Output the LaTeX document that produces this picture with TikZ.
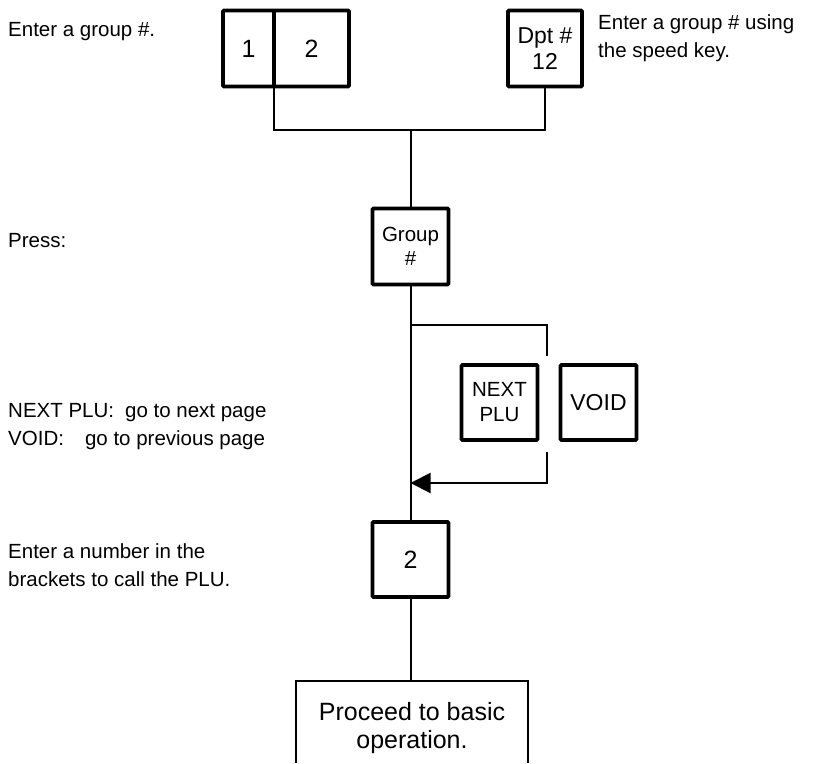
\documentclass[tikz,border=0pt]{standalone}
\usepackage{fontspec}
\setmainfont{Liberation Sans}
\usetikzlibrary{arrows.meta,positioning}

\begin{document}
\begin{tikzpicture}[
  x=1pt, y=-1pt,
  font=\fontsize{20.5}{28}\selectfont,
  key/.style={
    draw=black,
    line width=3.8pt,
    rounded corners=1pt,
    align=center,
    inner sep=0pt,
    outer sep=0pt,
    minimum width=76pt,
    minimum height=76pt
  },
  note/.style={anchor=west, align=left, inner sep=0pt},
  link/.style={line width=2pt, draw=black},
  back/.style={-{Triangle[length=20pt,width=20pt]}, line width=2pt, draw=black},
  frame/.style={line width=1.6pt, draw=black}
]
\useasboundingbox (0,0) rectangle (813,763);

% keys
\node[key, minimum width=51pt, font=\fontsize{25}{28}\selectfont] (one) at (248.5,48.5) {1};
\node[key, minimum width=75pt, font=\fontsize{25}{28}\selectfont] (two) at (311.5,48.5) {2};
\node[key, minimum width=74pt, font=\fontsize{23}{26}\selectfont] (dpt) at (545,48.5) {Dpt \#\\12};
\node[key, font=\fontsize{20.5}{24}\selectfont] (group) at (410.5,246.5) {Group\\\#};
\node[key, minimum height=75pt, font=\fontsize{20.5}{25}\selectfont] (next) at (499.5,402.5) {NEXT\\PLU};
\node[key, minimum height=75pt, font=\fontsize{23}{26}\selectfont] (void) at (598.5,402.5) {VOID};
\node[key, minimum height=75pt, font=\fontsize{25}{28}\selectfont] (plu) at (410.5,559.5) {2};
\node[font=\fontsize{25}{28}\selectfont, align=center, inner sep=0pt] (proceed) at (412,728) {Proceed to basic\\operation.};

% notes
\node[note] (entergroup) at (8,32) {Enter a group \#.};
\node[note] (speedkey) at (598,38) {Enter a group \# using\\the speed key.};
\node[note] (press) at (8,241) {Press:};
\node[note] (paging) at (8,427) {NEXT PLU:\hspace{11pt}go to next page\\VOID:\hspace{21pt}go to previous page};
\node[note] (enternum) at (8,565) {Enter a number in the\\brackets to call the PLU.};

% connectors
\coordinate (joint) at (410.5,130);
\coordinate (split) at (410.5,325);
\coordinate (rimtop) at (547,356);
\coordinate (rimlow) at (547,452);
\coordinate (merge) at (410.5,483);
\coordinate (boxbl) at (296,763);
\coordinate (boxtr) at (528,681);
\coordinate (boxbr) at (528,763);

\draw[link] (one.south east) |- (joint) -| (dpt.south);
\draw[link] (joint) -- (group.north);
\draw[link] (group.south) -- (plu.north);
\draw[link] (split) -| (rimtop);
\draw[back] (rimlow) |- (merge);
\draw[link] (plu.south) -- (plu.south |- boxtr);
\draw[frame] (boxbl) |- (boxtr) -- (boxbr);

\end{tikzpicture}
\end{document}
